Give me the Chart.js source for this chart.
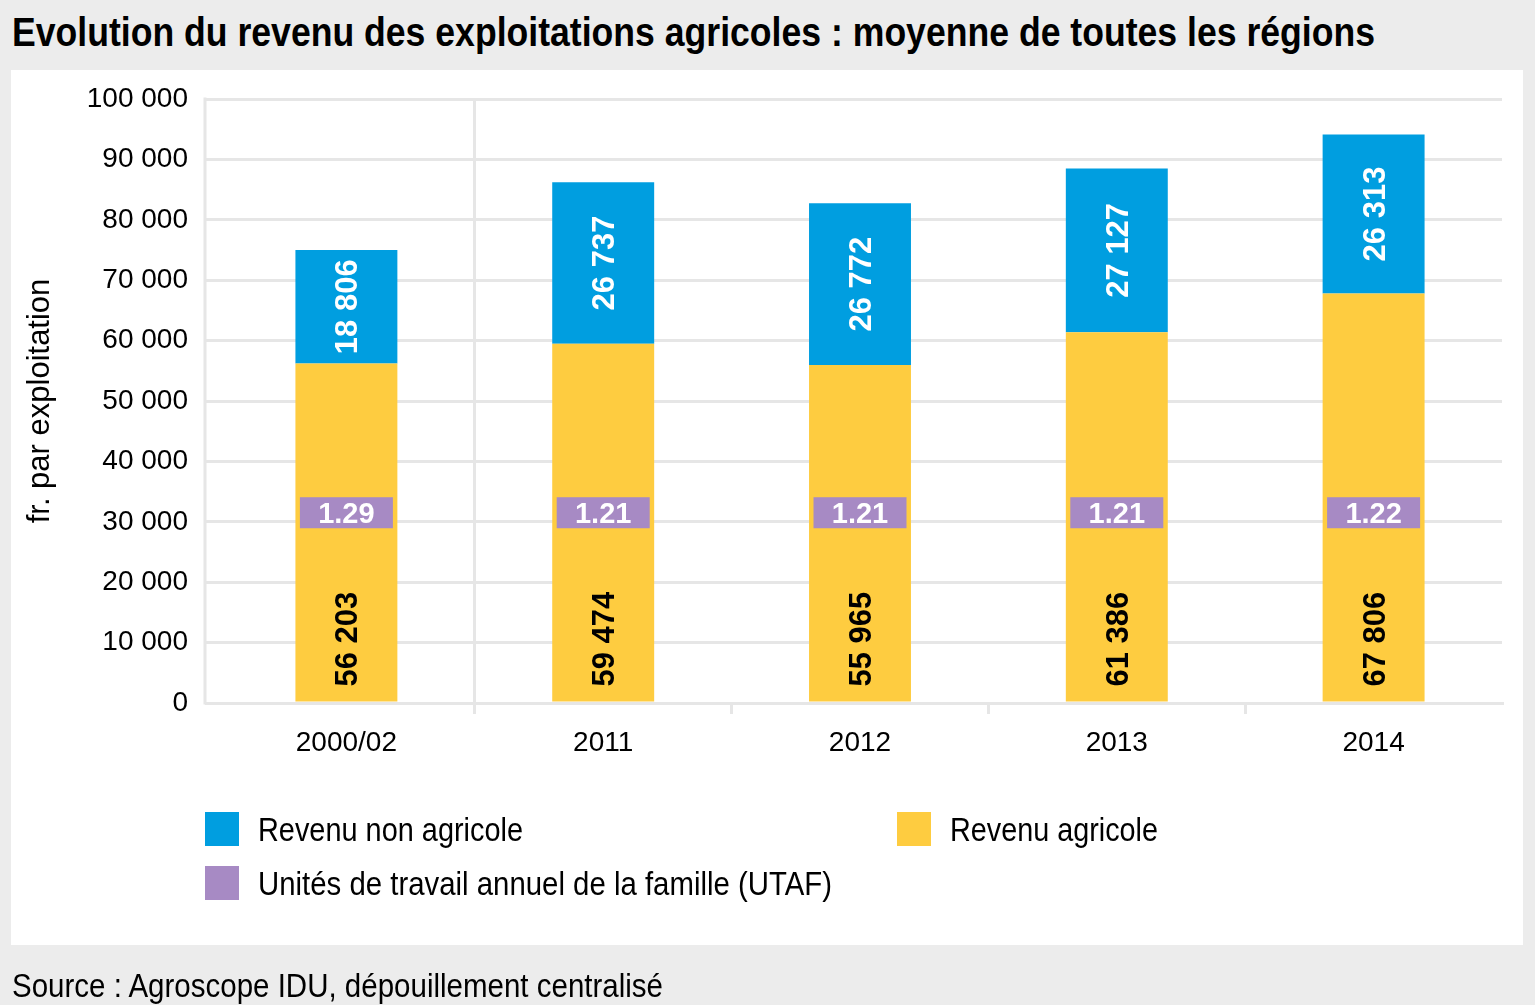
<!DOCTYPE html>
<html>
<head>
<meta charset="utf-8">
<script src="https://cdn.jsdelivr.net/npm/chart.js@4/dist/chart.umd.min.js"></script>
<style>
  html, body { margin:0; padding:0; background:#ececec; width:1535px; height:1005px; overflow:hidden; }
  body { position:relative; font-family:"Liberation Sans", Arial, sans-serif; color:#000; }
  #panel { position:absolute; left:11px; top:70px; width:1512px; height:875px; background:#fff; }
  canvas { position:absolute; left:0; top:0; }
  .txt { position:absolute; white-space:nowrap; transform-origin:0 0; display:inline-block; }
  #title { left:12px; top:12px; font-size:40px; line-height:40px; font-weight:bold; }
  .leg { font-size:33px; line-height:33px; }
  .box { position:absolute; width:34px; height:34px; }
  #source { left:12px; top:969px; font-size:33px; line-height:33px; }
</style>
</head>
<body>
<div id="panel"></div>
<div id="title" class="txt" data-w="1363">Evolution du revenu des exploitations agricoles : moyenne de toutes les régions</div>
<canvas id="c" width="1535" height="1005"></canvas>
<div class="box" style="left:205px;top:812px;background:#009ee0"></div>
<div class="txt leg" style="left:258px;top:813px" data-w="265">Revenu non agricole</div>
<div class="box" style="left:897px;top:812px;background:#fecc40"></div>
<div class="txt leg" style="left:950px;top:813px" data-w="208">Revenu agricole</div>
<div class="box" style="left:205px;top:866px;background:#a78ac4"></div>
<div class="txt leg" style="left:258px;top:867px" data-w="574">Unités de travail annuel de la famille (UTAF)</div>
<div id="source" class="txt" data-w="651">Source : Agroscope IDU, dépouillement centralisé</div>
<script>
// ---- data ----
const categories = ['2000/02', '2011', '2012', '2013', '2014'];
const revenuAgricole = [56203, 59474, 55965, 61386, 67806];
const revenuNonAgricole = [18806, 26737, 26772, 27127, 26313];
const utaf = [1.29, 1.21, 1.21, 1.21, 1.22];
const yMin = 0, yMax = 100000, yStep = 10000;

// ---- style ----
const BLUE = '#009ee0', YELLOW = '#fecc40', PURPLE = '#a78ac4', GRID = '#e6e6e6';
const UTAF_LABEL_Y = 31500;
const FONT = '"Liberation Sans", Arial, sans-serif';

function fmt(n) { return String(n).replace(/\B(?=(\d{3})+(?!\d))/g, ' '); }

const labelPlugin = {
  id: 'labels',
  beforeDatasetsDraw(chart) {
    const ctx = chart.ctx, a = chart.chartArea;
    ctx.save();
    ctx.strokeStyle = GRID; ctx.lineWidth = 3;
    ctx.beginPath();
    ctx.moveTo(a.left - 13, a.top - 1.5); ctx.lineTo(a.left - 13, a.bottom + 1.5);
    ctx.stroke();
    ctx.restore();
  },
  afterDatasetsDraw(chart) {
    const ctx = chart.ctx;
    const mA = chart.getDatasetMeta(0), mN = chart.getDatasetMeta(1);
    ctx.save();
    const size = 31;
    ctx.font = 'bold ' + size + 'px ' + FONT;
    mA.data.forEach((el, i) => {
      ctx.save();
      ctx.translate(el.x, el.base - 15);
      ctx.rotate(-Math.PI / 2);
      ctx.fillStyle = '#000'; ctx.textAlign = 'left'; ctx.textBaseline = 'alphabetic';
      ctx.fillText(fmt(revenuAgricole[i]), 0, 0.358 * size);
      ctx.restore();
    });
    mN.data.forEach((el, i) => {
      ctx.save();
      ctx.translate(el.x, (el.y + el.base) / 2);
      ctx.rotate(-Math.PI / 2);
      ctx.fillStyle = '#fff'; ctx.textAlign = 'center'; ctx.textBaseline = 'alphabetic';
      ctx.fillText(fmt(revenuNonAgricole[i]), 0, 0.358 * size);
      ctx.restore();
    });
    const yy = chart.scales.y.getPixelForValue(UTAF_LABEL_Y);
    const ps = 29;
    ctx.font = 'bold ' + ps + 'px ' + FONT;
    mA.data.forEach((el, i) => {
      ctx.fillStyle = PURPLE;
      ctx.fillRect(el.x - 46.5, yy - 15.5, 93, 31);
      ctx.fillStyle = '#fff'; ctx.textAlign = 'center'; ctx.textBaseline = 'alphabetic';
      ctx.fillText(utaf[i].toFixed(2), el.x, yy + 0.358 * ps);
    });
    ctx.restore();
  }
};

new Chart(document.getElementById('c'), {
  type: 'bar',
  data: {
    labels: categories,
    datasets: [
      { label: 'Revenu agricole', data: revenuAgricole, backgroundColor: YELLOW },
      { label: 'Revenu non agricole', data: revenuNonAgricole, backgroundColor: BLUE }
    ]
  },
  options: {
    responsive: false,
    animation: false,
    devicePixelRatio: 1,
    layout: { padding: { left: 0, top: 99, right: 33, bottom: 1005 - 703 - 60 } },
    plugins: { legend: { display: false }, tooltip: { enabled: false }, title: { display: false } },
    datasets: { bar: { categoryPercentage: 1, barPercentage: 0.397, borderWidth: 0 } },
    scales: {
      x: {
        stacked: true,
        afterFit(s) { s.height = 60; },
        grid: {
          offset: true,
          lineWidth: 3,
          color: c => (c.index === 1 || c.index === 5) ? GRID : 'rgba(0,0,0,0)',
          tickColor: c => (c.index >= 1 && c.index <= 4) ? GRID : 'rgba(0,0,0,0)',
          tickLength: 11,
          drawTicks: true
        },
        border: { display: true, color: GRID, width: 3 },
        ticks: { font: { family: FONT, size: 28 }, color: '#000', padding: 12, maxRotation: 0 }
      },
      y: {
        stacked: true,
        min: yMin, max: yMax,
        afterFit(s) { s.width = 218; },
        grid: { color: GRID, lineWidth: 3, tickColor: GRID, tickLength: 13, drawTicks: true },
        border: { display: false },
        ticks: {
          stepSize: yStep,
          font: { family: FONT, size: 28 }, color: '#000', padding: 17,
          callback: v => fmt(v)
        },
        title: {
          display: true, text: 'fr. par exploitation', color: '#000',
          font: { family: FONT, size: 31, lineHeight: 1.2 }, padding: { top: 22, bottom: 0 }
        }
      }
    }
  },
  plugins: [labelPlugin]
});

function fitTexts() {
  document.querySelectorAll('.txt').forEach(el => {
    el.style.transform = 'none';
    const w = el.getBoundingClientRect().width;
    const t = parseFloat(el.dataset.w);
    if (w > 0 && t) el.style.transform = 'scaleX(' + (t / w) + ')';
  });
}
fitTexts();
if (document.fonts && document.fonts.ready) document.fonts.ready.then(fitTexts);
</script>
</body>
</html>
